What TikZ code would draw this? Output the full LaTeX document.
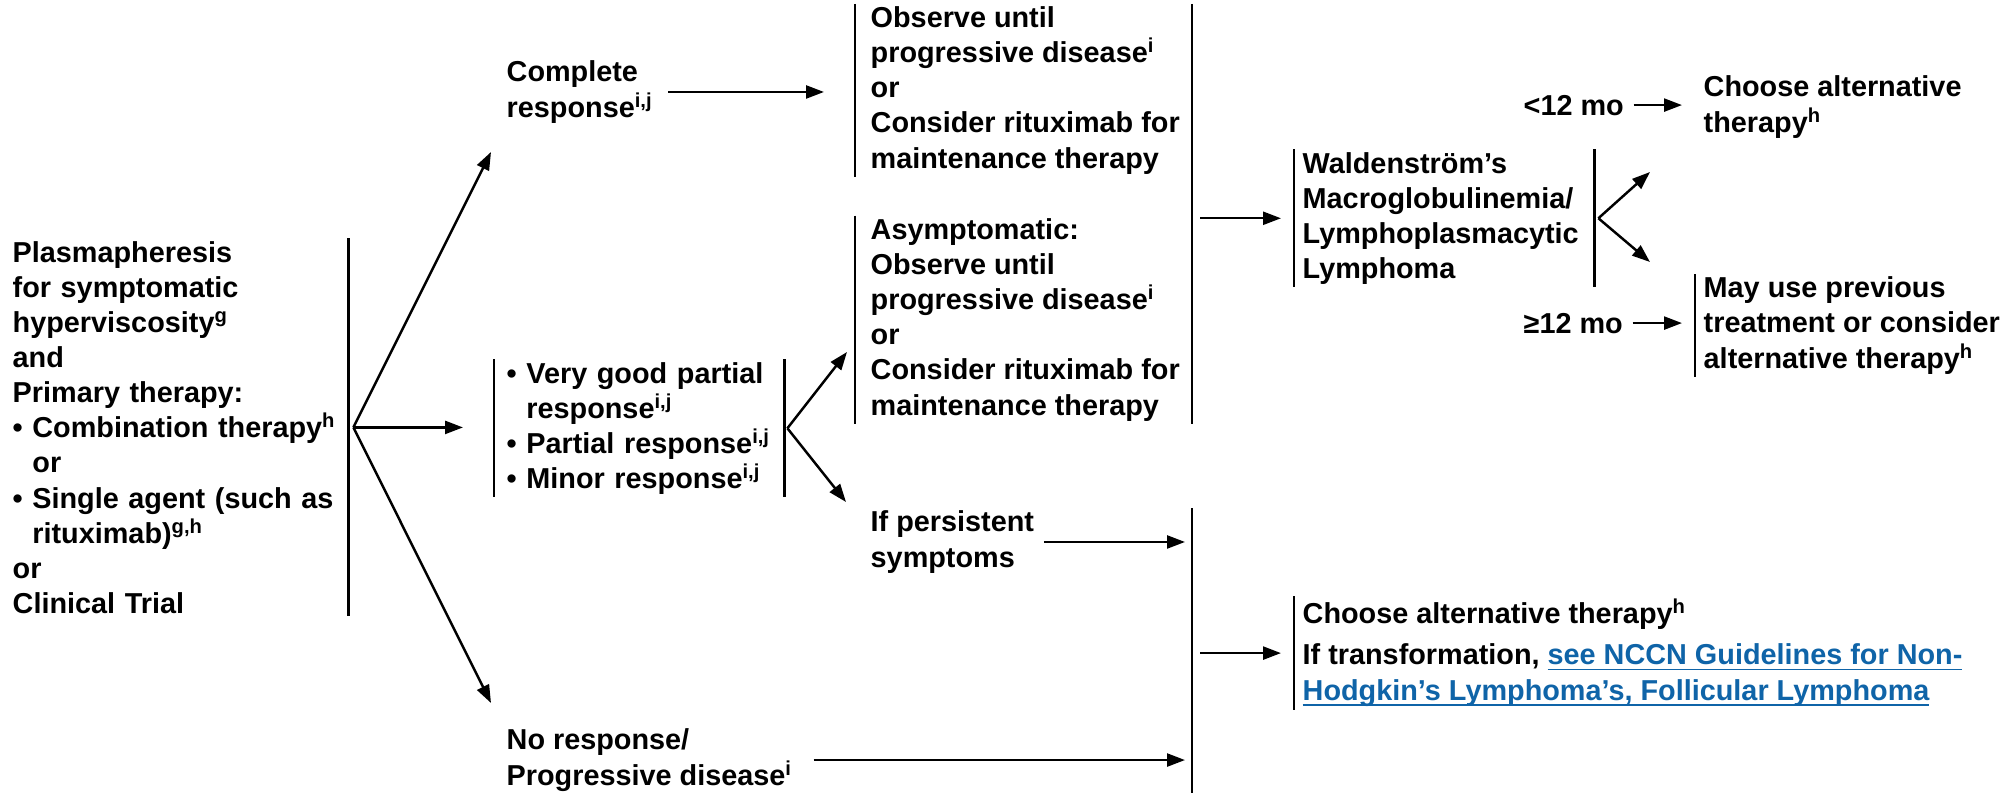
\documentclass[tikz,border=0pt]{standalone}
\usepackage{fontspec}
\setmainfont{Liberation Sans}
\usepackage{tikz}
\usetikzlibrary{arrows.meta,positioning,calc}
\usepackage{xcolor}
\definecolor{lnkblue}{HTML}{0F64A8}
\tikzset{
  txt/.style = {anchor=base west, inner xsep=0pt, inner ysep=0.2mm, align=left},
  bar/.style = {line width=0.7pt},
  sig/.style = {-{Triangle[length=1.8mm,width=1.3mm]}, line width=0.7pt},
}
\newcommand{\lnk}[1]{\textcolor{lnkblue}{\underline{\smash{#1}}}}
\newcommand{\ind}{\hphantom{\textbullet\ }}

\begin{document}
\begin{tikzpicture}[x=0.1mm,y=-0.1mm,font=\fontsize{8.2}{10}\selectfont\bfseries]
\useasboundingbox (0,0) rectangle (2015,793);
% primary therapy
\node[txt, inner xsep=0.6mm, text width=32.9mm] (start) at (6,262)
  {Plasmapheresis\\for symptomatic\\hyperviscosity\textsuperscript{g}\\and\\Primary therapy:\\
   \textbullet\ Combination therapy\textsuperscript{h}\\\ind or\\
   \textbullet\ Single agent (such as\\\ind rituximab)\textsuperscript{g,h}\\or\\Clinical Trial};
\draw[bar] (start.north east) -- (start.south east);
\coordinate (s0) at ([xshift=0.5mm]start.east);
% responses (multi-line nodes sit on their last line)
\node[txt] (cr) at (506,117) {Complete\\response\textsuperscript{i,j}};
\node[txt, inner xsep=1.2mm, text width=26.5mm] (vg) at (494,383)
  {\textbullet\ Very good partial\\\ind response\textsuperscript{i,j}\\
   \textbullet\ Partial response\textsuperscript{i,j}\\\textbullet\ Minor response\textsuperscript{i,j}};
\draw[bar] (vg.north west) -- (vg.south west);
\draw[bar] (vg.north east) -- (vg.south east);
\node[txt] (nr) at (506,785) {No response/\\Progressive disease\textsuperscript{i}};
\coordinate (t1) at (491,152);
\coordinate (t3) at (491,703);
\draw[sig] (s0) -- (t1);
\draw[sig, shorten >=3.1mm] (s0) -- (s0 -| vg.west);
\draw[sig] (s0) -- (t3);
% follow-up
\node[txt, inner xsep=1.5mm] (obs) at (855,168)
  {Observe until\\progressive disease\textsuperscript{i}\\or\\Consider rituximab for\\maintenance therapy};
\draw[bar] (obs.north west) -- (obs.south west);
\node[txt, inner xsep=1.5mm] (asy) at (855,415)
  {Asymptomatic:\\Observe until\\progressive disease\textsuperscript{i}\\or\\Consider rituximab for\\maintenance therapy};
\draw[bar] (asy.north west) -- (asy.south west);
\node[txt] (ip) at (870,567) {If persistent\\symptoms};
\draw[sig, shorten <=1.4mm, shorten >=3.1mm] (cr.east) -- (cr.east -| obs.west);
\coordinate (v0) at ([xshift=0.3mm]vg.east);
\coordinate (v1) at (847,352);
\coordinate (v2) at (846,502);
\draw[sig] (v0) -- (v1);
\draw[sig] (v0) -- (v2);
% merge bars
\coordinate (j1) at (1192,217);
\coordinate (j2) at (1192,652);
\draw[bar] (j1 |- obs.north) -- (j1 |- asy.south);
\draw[bar] (j2 |- ip.north) -- (j2 |- nr.south);
\draw[sig, shorten <=0.9mm, shorten >=0.7mm] (ip.east) -- (ip.east -| j2);
\draw[sig, shorten <=2mm, shorten >=0.7mm] (nr.east) -- (nr.east -| j2);
% progression
\node[txt, inner xsep=0.8mm, text width=28.3mm] (wm) at (1294,173)
  {Waldenstr\"om’s\\Macroglobulinemia/\\Lymphoplasmacytic\\Lymphoma};
\draw[bar] (wm.north west) -- (wm.south west);
\draw[bar] (wm.north east) -- (wm.south east);
\draw[sig, shorten <=0.8mm, shorten >=1.3mm] (j1 |- wm.west) -- (wm.west);
\node[txt, inner xsep=0.8mm] (alt) at (1294,700)
  {Choose alternative therapy\textsuperscript{h}\\[0.6mm]
   If transformation, \lnk{see NCCN Guidelines for Non-}\\
   \lnk{Hodgkin’s Lymphoma’s, Follicular Lymphoma}\vphantom{gy}};
\draw[bar] (alt.north west) -- (alt.south west);
\draw[sig, shorten <=0.8mm, shorten >=1.3mm] (j2 |- alt.west) -- (alt.west);
% time to progression
\coordinate (w0) at ([xshift=0.4mm]wm.east);
\coordinate (wa) at (1650,172);
\coordinate (wb) at (1650,262);
\draw[sig] (w0) -- (wa);
\draw[sig] (w0) -- (wb);
\node[txt] (lt) at (1523,115) {<12 mo};
\node[txt] (ca) at (1703,132) {Choose alternative\\therapy\textsuperscript{h}};
\node[txt] (ge) at (1523,333) {≥12 mo};
\node[txt, inner xsep=0.8mm] (may) at (1695,368)
  {May use previous\\treatment or consider\\alternative therapy\textsuperscript{h}};
\draw[bar] (may.north west) -- (may.south west);
\draw[sig, shorten <=0.9mm, shorten >=2.1mm] (lt.east) -- (lt.east -| ca.west);
\draw[sig, shorten <=0.9mm, shorten >=1.3mm] (ge.east) -- (ge.east -| may.west);
\end{tikzpicture}
\end{document}
